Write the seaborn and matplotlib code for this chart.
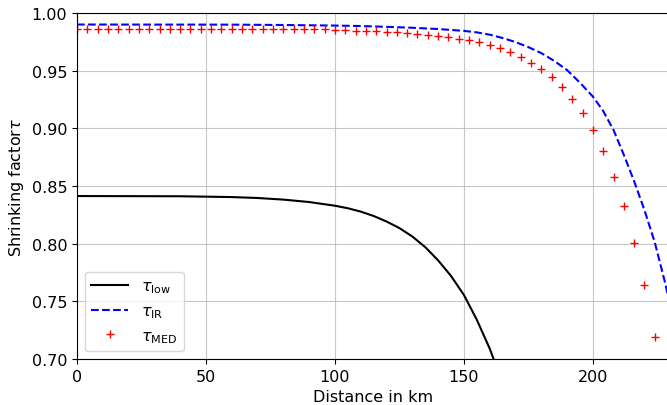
import numpy as np
import pandas as pd
import matplotlib
matplotlib.use("Agg")
import matplotlib.pyplot as plt
import seaborn as sns

# tau_low (black solid)
low_x = [0, 40, 60, 70, 80, 90, 100, 105, 110, 115, 120, 125, 130, 135, 140, 145, 150,
         155, 160, 165]
low_y = [0.8413, 0.8411, 0.8404, 0.8396, 0.8382, 0.8361, 0.8329, 0.8307, 0.8278, 0.8240,
         0.8192, 0.8135, 0.8062, 0.7970, 0.7855, 0.7720, 0.7555, 0.7340, 0.7090, 0.6790]

# tau_IR (blue dashed)
ir_x = [0, 60, 80, 100, 110, 120, 130, 140, 150, 155, 160, 165, 170, 175, 180, 185, 190,
        195, 200, 204, 208, 212, 216, 220, 224, 228, 232]
ir_y = [0.9900, 0.9899, 0.9896, 0.9891, 0.9887, 0.9880, 0.9872, 0.9861, 0.9845, 0.9832,
        0.9812, 0.9783, 0.9748, 0.9704, 0.9652, 0.9585, 0.9505, 0.9395, 0.9275, 0.9150,
        0.8985, 0.8770, 0.8540, 0.8290, 0.8010, 0.7660, 0.7250]

# tau_MED (red plus markers)
med_x = list(range(0, 225, 4))
med_y = [0.9857] * 25 + [0.9852, 0.9850, 0.9848, 0.9845, 0.9842, 0.9838, 0.9833, 0.9826,
                         0.9818, 0.9810, 0.9800, 0.9790, 0.9778, 0.9765, 0.9745, 0.9724,
                         0.9695, 0.9658, 0.9620, 0.9570, 0.9513, 0.9443, 0.9356, 0.9252,
                         0.9130, 0.8985, 0.8800, 0.8580, 0.8330, 0.8010, 0.7640, 0.7190]

plt.rcParams["font.family"] = ["DejaVu Sans"]
plt.rcParams["font.size"] = 11.5

fig = plt.figure(figsize=(6.67, 4.06), dpi=100)
ax = fig.add_axes([77 / 667, 46 / 406, 592 / 667, 346 / 406])

sns.lineplot(x=low_x, y=low_y, color="black", linewidth=1.5, ax=ax, label=r"$\tau_{\rm low}$")
sns.lineplot(x=ir_x, y=ir_y, color="blue", linewidth=1.5, linestyle="--", ax=ax,
             label=r"$\tau_{\rm IR}$")
ax.plot(med_x, med_y, linestyle="none", marker="+", color="red", markersize=6,
        label=r"$\tau_{\rm MED}$")

ax.set_xlim(0, 229.5)
ax.set_ylim(0.70, 1.00)
ax.set_xticks([0, 50, 100, 150, 200])
ax.set_yticks(np.arange(0.70, 1.001, 0.05))
ax.yaxis.set_major_formatter(matplotlib.ticker.FormatStrFormatter("%.2f"))
ax.grid(True, color="#b0b0b0", linewidth=0.8, alpha=0.7)
ax.set_axisbelow(True)
ax.set_xlabel("Distance in km")
ax.set_ylabel("Shrinking factor" + r"$\tau$")
ax.legend(loc="lower left", fontsize=11.5, handlelength=2.3)

fig.savefig("out.png", dpi=100)
